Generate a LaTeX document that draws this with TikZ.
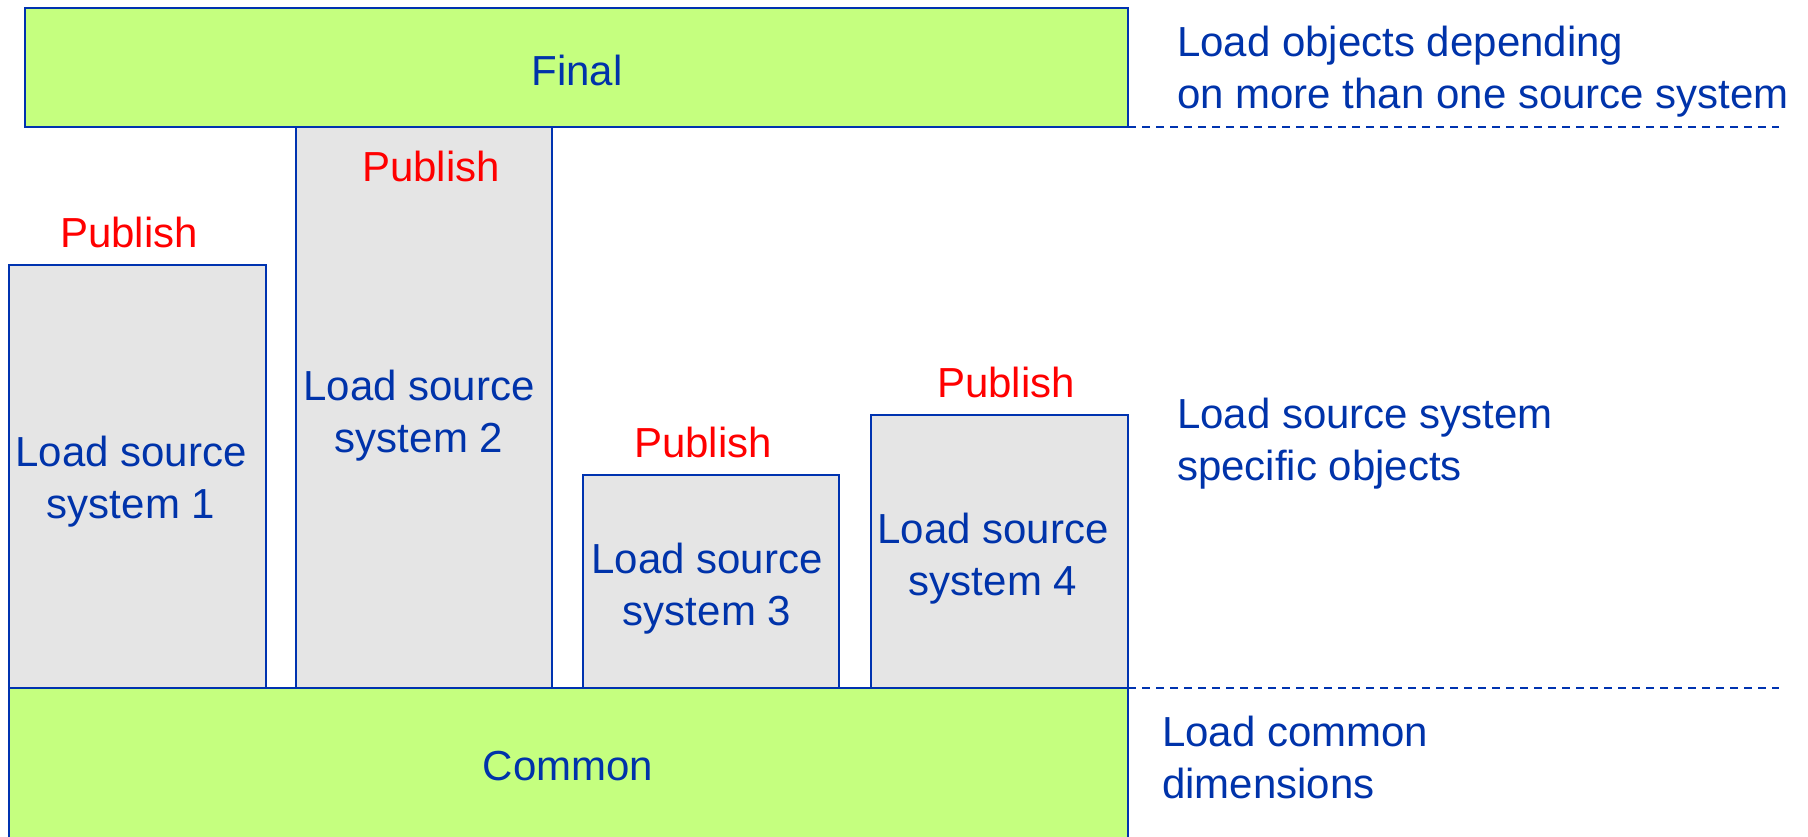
\documentclass[tikz,border=0pt]{standalone}
\usepackage{fontspec}
\setmainfont{Liberation Sans}
\definecolor{bblue}{HTML}{0033B0}
\definecolor{tblue}{HTML}{0033AA}
\definecolor{lgreen}{HTML}{C5FF7F}
\definecolor{lgrey}{HTML}{E5E5E5}
\definecolor{pred}{HTML}{FF0000}
\begin{document}
\begin{tikzpicture}[x=1pt,y=-1pt,
  box/.style={draw=bblue,line width=2pt,anchor=north west,inner sep=0pt,outer sep=0pt},
  greenbox/.style={box,fill=lgreen},
  greybox/.style={box,fill=lgrey},
  txt/.style={text=tblue,font=\fontsize{42}{52}\selectfont,align=center,inner sep=0pt},
  pubtxt/.style={text=pred,font=\fontsize{42}{52}\selectfont,inner sep=0pt},
  side/.style={txt,align=left,anchor=west},
  sep/.style={draw=bblue,line width=1.7pt,dash pattern=on 8pt off 6pt}]
\useasboundingbox (0,0) rectangle (1808,836);
\fill[white] (0,0) rectangle (1808,836);
% source boxes
\node[greybox,minimum width=257,minimum height=423] (ls1) at (9,265) {};
\node[greybox,minimum width=256,minimum height=561] (ls2) at (296,127) {};
\node[greybox,minimum width=256,minimum height=213] (ls3) at (583,475) {};
\node[greybox,minimum width=257,minimum height=273] (ls4) at (871,415) {};
% layers
\node[greenbox,minimum width=1103,minimum height=119] (final) at (25,8) {};
\node[greenbox,minimum width=1119,minimum height=170] (common) at (9,688) {};
% texts
\node[txt] (tfinal) at (577,70) {Final};
\node[txt] (tcommon) at (568,766) {Common};
\node[txt] (t1) at (131,482) {Load source\\system 1};
\node[txt] (t2) at (419,416) {Load source\\system 2};
\node[txt] (t3) at (707,589) {Load source\\system 3};
\node[txt] (t4) at (993,559) {Load source\\system 4};
\node[pubtxt] (p1) at (129,232) {Publish};
\node[pubtxt] (p2) at (431,166) {Publish};
\node[pubtxt] (p3) at (703,442) {Publish};
\node[pubtxt] (p4) at (1006,382) {Publish};
% side labels
\node[side] (s1) at (1177,72) {Load objects depending\\on more than one source system};
\node[side] (s2) at (1177,444) {Load source system\\specific objects};
\node[side] (s3) at (1162,757) {Load common\\dimensions};
% separators
\coordinate (e1) at (1779,127);
\coordinate (e2) at (1779,688);
\draw[sep] (final.south east) -- (e1);
\draw[sep] (common.north east) -- (e2);
\end{tikzpicture}
\end{document}
